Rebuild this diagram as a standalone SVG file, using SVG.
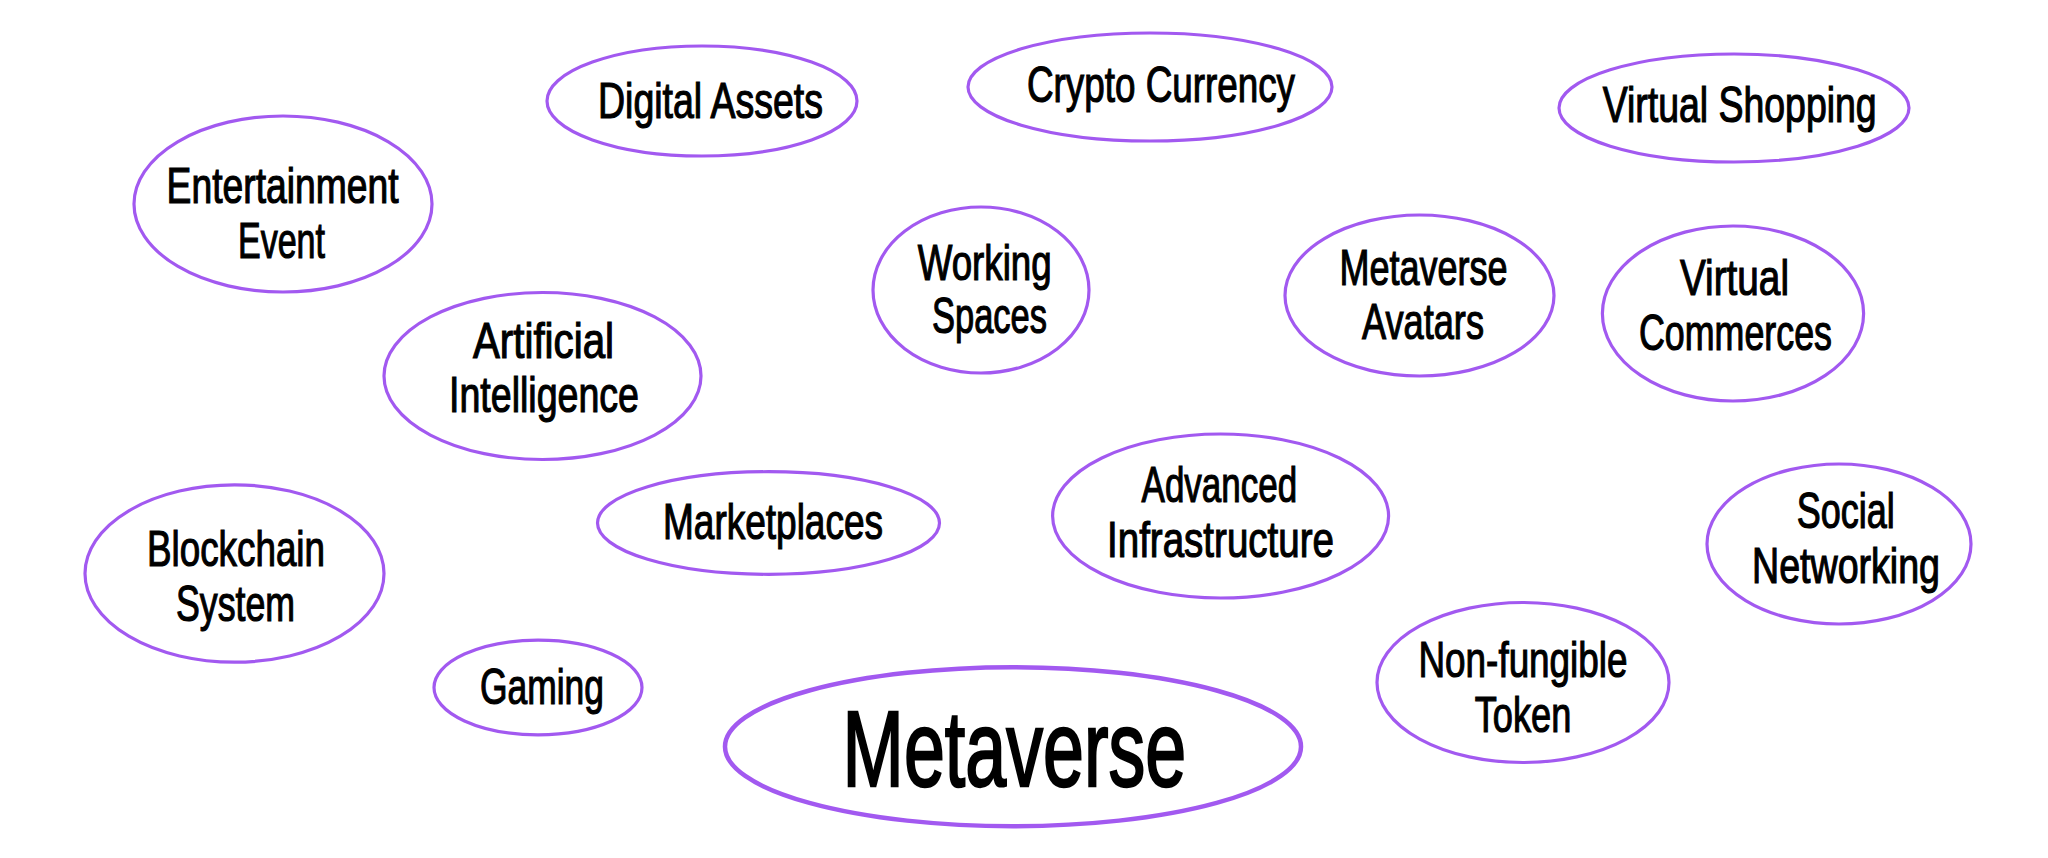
<svg xmlns="http://www.w3.org/2000/svg" width="2048" height="858" viewBox="0 0 2048 858">
<style>
.n{fill:#fff;stroke:#a259f0;stroke-width:3.2}
.big{stroke-width:4.5}
text{font-family:"Liberation Sans",Arial,sans-serif;font-size:50px;fill:#000;stroke:#000;stroke-width:1.2}
.t{font-size:107px;stroke-width:2.4}
</style>
<rect width="2048" height="858" fill="#fff"/>
<g id="connectors"></g>
<g id="entertainment-event"><ellipse class="n" cx="283" cy="204" rx="149" ry="88"/>
<text x="166.6" y="203.3" textLength="232" lengthAdjust="spacingAndGlyphs">Entertainment</text>
<text x="238" y="257.7" textLength="87" lengthAdjust="spacingAndGlyphs">Event</text></g>
<g id="digital-assets"><ellipse class="n" cx="702" cy="101" rx="155" ry="55"/>
<text x="598" y="118.3" textLength="225" lengthAdjust="spacingAndGlyphs">Digital Assets</text></g>
<g id="crypto-currency"><ellipse class="n" cx="1150" cy="87" rx="182" ry="54"/>
<text x="1027" y="101.7" textLength="268" lengthAdjust="spacingAndGlyphs">Crypto Currency</text></g>
<g id="virtual-shopping"><ellipse class="n" cx="1734" cy="108" rx="175" ry="54"/>
<text x="1602.7" y="121.7" textLength="274" lengthAdjust="spacingAndGlyphs">Virtual Shopping</text></g>
<g id="artificial-intelligence"><ellipse class="n" cx="542.5" cy="376" rx="158.5" ry="83.5"/>
<text x="473" y="358.3" textLength="141" lengthAdjust="spacingAndGlyphs">Artificial</text>
<text x="449" y="412.3" textLength="190" lengthAdjust="spacingAndGlyphs">Intelligence</text></g>
<g id="working-spaces"><ellipse class="n" cx="981" cy="290" rx="108" ry="83"/>
<text x="917.7" y="280" textLength="134" lengthAdjust="spacingAndGlyphs">Working</text>
<text x="932" y="333.3" textLength="115" lengthAdjust="spacingAndGlyphs">Spaces</text></g>
<g id="metaverse-avatars"><ellipse class="n" cx="1419.5" cy="295.5" rx="134.5" ry="80.5"/>
<text x="1339.5" y="285" textLength="168" lengthAdjust="spacingAndGlyphs">Metaverse</text>
<text x="1362" y="339.3" textLength="122" lengthAdjust="spacingAndGlyphs">Avatars</text></g>
<g id="virtual-commerces"><ellipse class="n" cx="1733" cy="313.5" rx="130.6" ry="87.5"/>
<text x="1680" y="295" textLength="109" lengthAdjust="spacingAndGlyphs">Virtual</text>
<text x="1639" y="350" textLength="193" lengthAdjust="spacingAndGlyphs">Commerces</text></g>
<g id="blockchain-system"><ellipse class="n" cx="234.5" cy="573.5" rx="149.5" ry="88.7"/>
<text x="147" y="565.7" textLength="178" lengthAdjust="spacingAndGlyphs">Blockchain</text>
<text x="176" y="620.7" textLength="119" lengthAdjust="spacingAndGlyphs">System</text></g>
<g id="marketplaces"><ellipse class="n" cx="768.5" cy="523" rx="171" ry="51.3"/>
<text x="663" y="539" textLength="220" lengthAdjust="spacingAndGlyphs">Marketplaces</text></g>
<g id="advanced-infrastructure"><ellipse class="n" cx="1220.6" cy="516" rx="168" ry="82"/>
<text x="1141.6" y="502.3" textLength="155.5" lengthAdjust="spacingAndGlyphs">Advanced</text>
<text x="1107" y="556.7" textLength="227" lengthAdjust="spacingAndGlyphs">Infrastructure</text></g>
<g id="social-networking"><ellipse class="n" cx="1839" cy="544" rx="132" ry="80"/>
<text x="1796.7" y="528.3" textLength="98" lengthAdjust="spacingAndGlyphs">Social</text>
<text x="1752" y="583" textLength="188" lengthAdjust="spacingAndGlyphs">Networking</text></g>
<g id="gaming"><ellipse class="n" cx="538" cy="687.5" rx="104" ry="47.3"/>
<text x="480" y="704" textLength="124" lengthAdjust="spacingAndGlyphs">Gaming</text></g>
<g id="non-fungible-token"><ellipse class="n" cx="1523" cy="682.5" rx="146" ry="80"/>
<text x="1418.5" y="677.3" textLength="209" lengthAdjust="spacingAndGlyphs">Non-fungible</text>
<text x="1474.7" y="732.3" textLength="96.6" lengthAdjust="spacingAndGlyphs">Token</text></g>
<g id="metaverse"><ellipse class="n big" cx="1013" cy="746.7" rx="288" ry="79.5"/>
<text class="t" x="842.6" y="786.3" textLength="343.6" lengthAdjust="spacingAndGlyphs">Metaverse</text></g>
</svg>
